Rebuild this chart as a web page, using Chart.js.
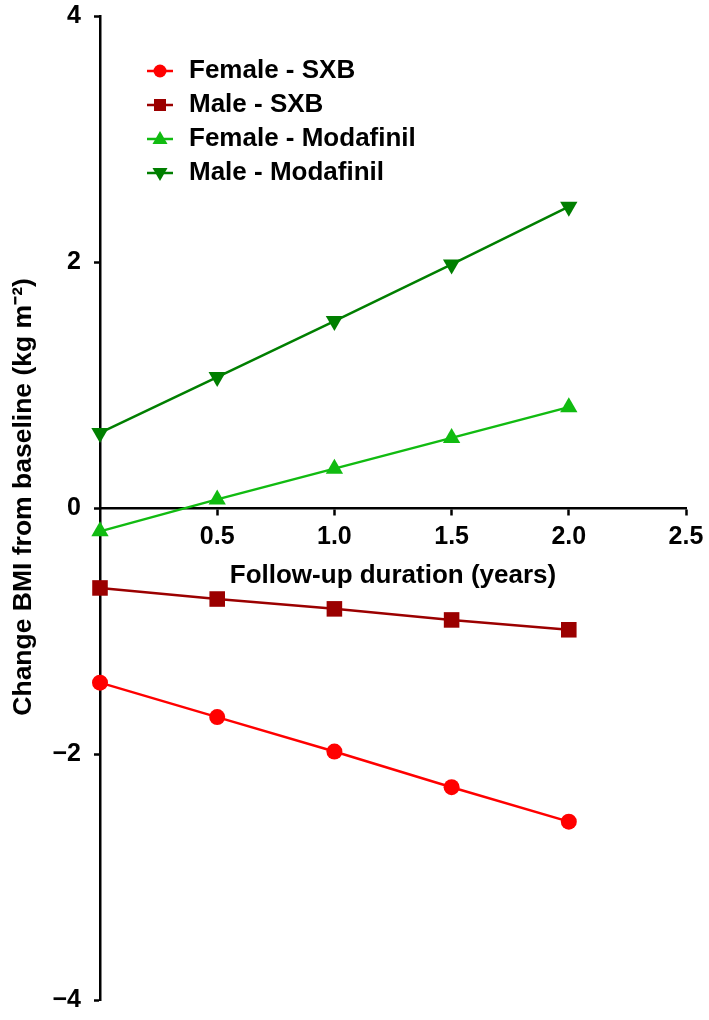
<!DOCTYPE html>
<html>
<head>
<meta charset="utf-8">
<script src="https://cdn.jsdelivr.net/npm/chart.js@4.4.0/dist/chart.umd.min.js"></script>
<style>
  html, body { margin: 0; padding: 0; background: #fff; }
</style>
</head>
<body>
<canvas id="myChart" width="709" height="1020"></canvas>
<script>
// values
const years = [0, 0.5, 1.0, 1.5, 2.0];
const femaleSxb = [-1.42, -1.70, -1.98, -2.27, -2.55];
const maleSxb = [-0.65, -0.74, -0.82, -0.91, -0.99];
const femaleModafinil = [-0.19, 0.07, 0.32, 0.57, 0.82];
const maleModafinil = [0.61, 1.065, 1.52, 1.98, 2.45];
const seriesNames = ['Female - SXB', 'Male - SXB', 'Female - Modafinil', 'Male - Modafinil'];
const xTicks = [0.5, 1.0, 1.5, 2.0, 2.5];
const yTicks = [-4, -2, 0, 2, 4];

const colors = ['#ff0000', '#9b0000', '#11bb11', '#007f00'];
const styles = ['circle', 'rect', 'triangle', 'triangle'];
const rotations = [0, 0, 0, 180];
const radii = [8, 11, 10, 10];

Chart.defaults.font.family = "'Liberation Sans', Arial, sans-serif";
Chart.defaults.font.weight = 'bold';
Chart.defaults.color = '#000';

function points(vals) {
    return years.map(function(x, i) { return {x: x, y: vals[i]}; });
}

// small line+marker pictures for the legend
function legendIcon(i) {
    const c = document.createElement('canvas');
    c.width = 68;
    c.height = 24;
    const g = c.getContext('2d');
    const cx = 52, cy = 12;
    g.strokeStyle = colors[i];
    g.fillStyle = colors[i];
    g.lineWidth = 2.5;
    g.beginPath();
    g.moveTo(39, cy);
    g.lineTo(65, cy);
    g.stroke();
    g.beginPath();
    if (styles[i] === 'circle') {
        g.arc(cx, cy, 6.5, 0, Math.PI * 2);
    } else if (styles[i] === 'rect') {
        g.rect(cx - 6, cy - 6, 12, 12);
    } else if (rotations[i] === 0) {
        g.moveTo(cx, cy - 8);
        g.lineTo(cx + 7.5, cy + 5);
        g.lineTo(cx - 7.5, cy + 5);
    } else {
        g.moveTo(cx, cy + 8);
        g.lineTo(cx + 7.5, cy - 5);
        g.lineTo(cx - 7.5, cy - 5);
    }
    g.closePath();
    g.fill();
    return c;
}

const allSeries = [femaleSxb, maleSxb, femaleModafinil, maleModafinil];
const datasets = allSeries.map(function(vals, i) {
    return {
        label: seriesNames[i],
        data: points(vals),
        borderColor: colors[i],
        backgroundColor: colors[i],
        borderWidth: 2.5,
        pointStyle: styles[i],
        pointRotation: rotations[i],
        pointRadius: radii[i],
        pointBorderWidth: 0,
        clip: false
    };
});

// x axis sits on y = 0, so it should not take room at the bottom of the chart
const keepXHeight = {
    id: 'keepXHeight',
    afterLayout: function(chart) {
        const s = chart.scales.x;
        s.height = s._fullHeight;
        s.bottom = s.top + s._fullHeight;
    }
};

const ctx = document.getElementById('myChart').getContext('2d');
const myChart = new Chart(ctx, {
    type: 'line',
    data: { datasets: datasets },
    plugins: [keepXHeight],
    options: {
        responsive: false,
        animation: false,
        layout: { autoPadding: false, padding: { left: 0, top: 16, right: 23, bottom: 20 } },
        plugins: {
            tooltip: { enabled: false },
            legend: {
                position: 'chartArea',
                align: 'start',
                title: { display: true, text: ' ', font: { size: 10 }, padding: { top: 38, bottom: 0 } },
                labels: {
                    usePointStyle: true,
                    pointStyleWidth: 68,
                    padding: 8,
                    font: { size: 26, weight: 'bold', lineHeight: 0.96 },
                    generateLabels: function(chart) {
                        return chart.data.datasets.map(function(ds, i) {
                            return {
                                text: ds.label,
                                pointStyle: legendIcon(i),
                                fillStyle: colors[i],
                                strokeStyle: colors[i],
                                lineWidth: 0,
                                hidden: false,
                                datasetIndex: i
                            };
                        });
                    }
                }
            }
        },
        scales: {
            x: {
                type: 'linear',
                position: { y: 0 },
                min: 0,
                max: 2.5,
                z: 1,
                grid: { drawOnChartArea: false, drawTicks: true, tickLength: 6, tickWidth: 2.5, tickColor: '#000' },
                border: { display: true, color: '#000', width: 2.5 },
                ticks: {
                    padding: 11,
                    font: { size: 25, weight: 'bold', lineHeight: 1.0 },
                    maxRotation: 0,
                    callback: function(v) { return v === 0 ? '' : v.toFixed(1); }
                },
                afterBuildTicks: function(s) {
                    s.ticks = xTicks.map(function(v) { return {value: v}; });
                },
                afterFit: function(s) {
                    s._fullHeight = s.height;
                    s.height = 0;
                    s.paddingLeft = 0;
                    s.paddingRight = 0;
                },
                title: {
                    display: true,
                    text: 'Follow-up duration (years)',
                    font: { size: 26, weight: 'bold', lineHeight: 1.0 },
                    padding: { top: 2, bottom: 0 }
                }
            },
            y: {
                type: 'linear',
                min: -4,
                max: 4,
                z: 1,
                grid: { drawOnChartArea: false, drawTicks: true, tickLength: 6, tickWidth: 2.5, tickColor: '#000' },
                border: { display: true, color: '#000', width: 2.5 },
                ticks: {
                    padding: 13,
                    font: { size: 25, weight: 'bold', lineHeight: 1.0 },
                    callback: function(v) { return v < 0 ? '\u2212' + Math.abs(v) : String(v); }
                },
                afterBuildTicks: function(s) {
                    s.ticks = yTicks.map(function(v) { return {value: v}; });
                },
                afterFit: function(s) {
                    s.width = 100;
                    s.paddingTop = 0;
                    s.paddingBottom = 0;
                },
                title: {
                    display: true,
                    text: '   Change BMI from baseline (kg m\u207B\u00B2)',
                    font: { size: 26.5, weight: 'bold', lineHeight: 1.0 },
                    padding: { top: 10, bottom: 0 }
                }
            }
        }
    }
});
</script>
</body>
</html>
